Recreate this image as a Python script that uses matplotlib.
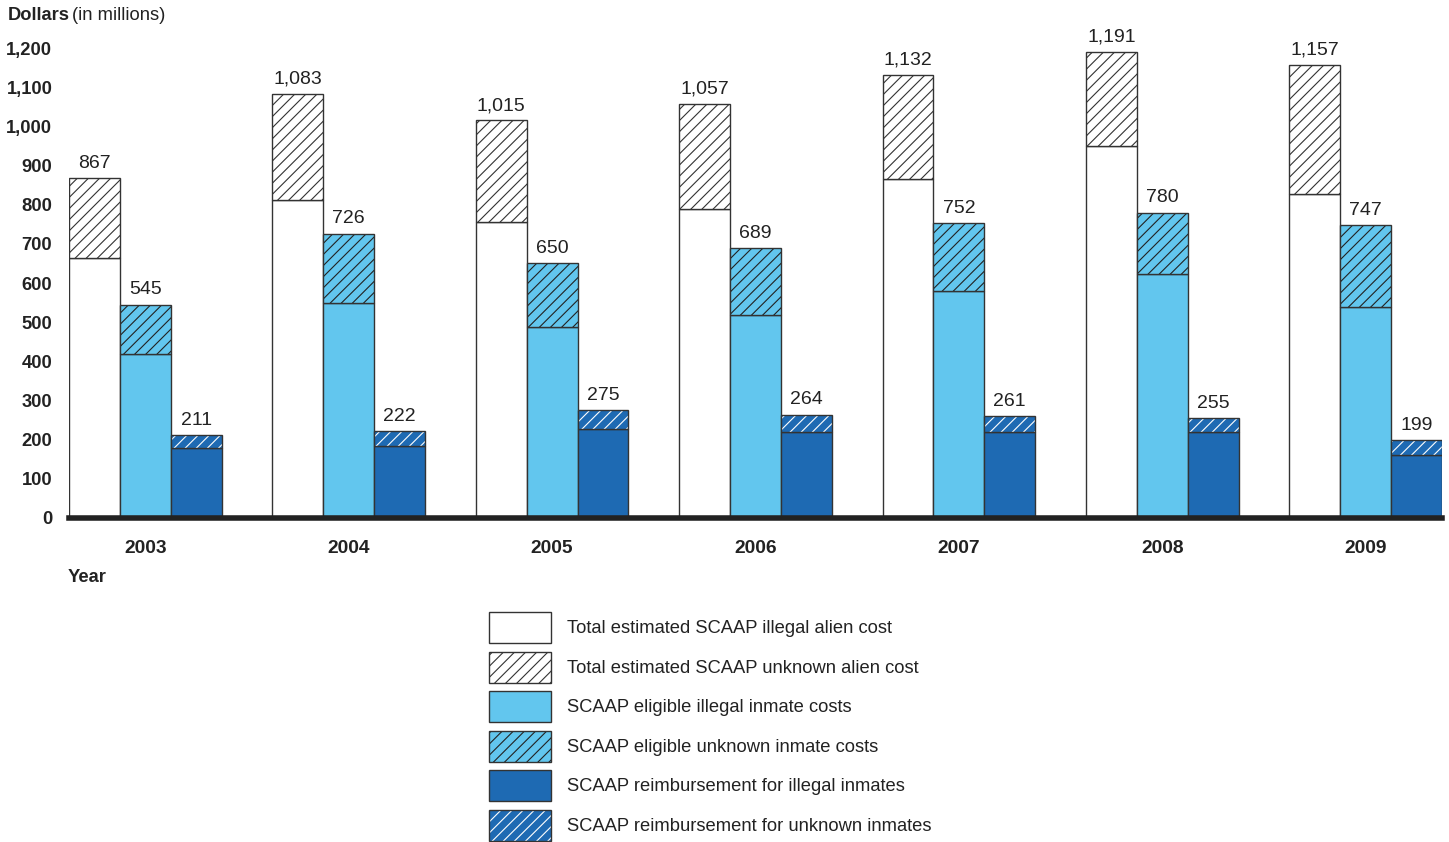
import matplotlib.pyplot as plt
import numpy as np
from matplotlib.patches import Rectangle
from matplotlib.legend_handler import HandlerBase

plt.rcParams['font.family'] = ['Liberation Sans', 'DejaVu Sans']
plt.rcParams['hatch.linewidth'] = 0.8

years = ['2003', '2004', '2005', '2006', '2007', '2008', '2009']

# total estimated SCAAP cost (illegal part + unknown part = total)
total_illegal = [663, 812, 757, 789, 865, 950, 827]
total_all = [867, 1083, 1015, 1057, 1132, 1191, 1157]
# SCAAP eligible costs
elig_illegal = [420, 548, 488, 518, 580, 623, 539]
elig_all = [545, 726, 650, 689, 752, 780, 747]
# SCAAP reimbursement
reimb_illegal = [178, 185, 228, 219, 220, 220, 160]
reimb_all = [211, 222, 275, 264, 261, 255, 199]

yticks = [0, 100, 200, 300, 400, 500, 600, 700, 800, 900, 1000, 1100, 1200]

LIGHT = '#62C6EE'
DARK = '#1E6AB3'
EDGE = '#333333'
TXT = '#222222'
HATCH = '///'

fig = plt.figure(figsize=(14.49, 8.42), dpi=100)
ax = fig.add_axes([69 / 1449, 1 - 518 / 842, (1442 - 69) / 1449, (518 - 48) / 842])

x = np.arange(len(years))
w = 0.25


def stacked(xpos, low, full, color, hatch_color, label_low):
    low = np.array(low)
    full = np.array(full)
    ax.bar(xpos, low, w, color=color, edgecolor=EDGE, linewidth=1.0,
           label=label_low, zorder=2)
    # hatch layer then outline layer so hatch colour can differ from edge
    ax.bar(xpos, full - low, w, bottom=low, color=color, edgecolor=hatch_color,
           hatch=HATCH, linewidth=0, zorder=2)
    ax.bar(xpos, full - low, w, bottom=low, fill=False, edgecolor=EDGE,
           linewidth=1.0, zorder=3)
    for xi, v in zip(xpos, full):
        ax.text(xi, v + 16, f'{v:,}', ha='center', va='bottom', fontsize=14,
                color=TXT)


stacked(x - w, total_illegal, total_all, 'white', '#333333',
        'Total estimated SCAAP illegal alien cost')
stacked(x, elig_illegal, elig_all, LIGHT, '#222222',
        'SCAAP eligible illegal inmate costs')
stacked(x + w, reimb_illegal, reimb_all, DARK, 'white',
        'SCAAP reimbursement for illegal inmates')

ax.set_xlim(-1.5 * w, len(years) - 1 + 1.5 * w)
ax.set_ylim(0, 1200)
ax.set_yticks(yticks)
ax.set_yticklabels([f'{t:,}' for t in yticks], fontweight='bold', fontsize=13.2,
                   color=TXT)
ax.set_xticks(x)
ax.set_xticklabels(years, fontweight='bold', fontsize=13.8, color=TXT)
ax.tick_params(axis='both', length=0)
ax.tick_params(axis='y', pad=12)
ax.tick_params(axis='x', pad=16)
for s in ['top', 'right', 'left']:
    ax.spines[s].set_visible(False)
ax.spines['bottom'].set_linewidth(4)
ax.spines['bottom'].set_color(TXT)
ax.spines['bottom'].set_zorder(5)

fig.text(8 / 1449, 1 - 16 / 842, 'Dollars', fontweight='bold', fontsize=13.2,
         va='center', color=TXT)
fig.text(72 / 1449, 1 - 16 / 842, '(in millions)', fontsize=13.2,
         va='center', color=TXT)
fig.text(68 / 1449, 1 - 577 / 842, 'Year', fontweight='bold', fontsize=13.2,
         va='center', color=TXT)


# legend with custom swatches (hatch colour differs from outline colour)
class DoubleHatch(HandlerBase):
    def __init__(self, face, hatch_color):
        super().__init__()
        self.face = face
        self.hatch_color = hatch_color

    def create_artists(self, legend, orig_handle, xdescent, ydescent, width,
                       height, fontsize, trans):
        r1 = Rectangle((-xdescent, -ydescent), width, height, facecolor=self.face,
                       edgecolor=self.hatch_color, hatch=HATCH, linewidth=0,
                       transform=trans)
        r2 = Rectangle((-xdescent, -ydescent), width, height, fill=False,
                       edgecolor=EDGE, linewidth=1.0, transform=trans)
        return [r1, r2]


h_white = Rectangle((0, 0), 1, 1, facecolor='white', edgecolor=EDGE, linewidth=1.0)
h_white_u = Rectangle((0, 0), 1, 1)
h_light = Rectangle((0, 0), 1, 1, facecolor=LIGHT, edgecolor=EDGE, linewidth=1.0)
h_light_u = Rectangle((0, 0), 1, 1)
h_dark = Rectangle((0, 0), 1, 1, facecolor=DARK, edgecolor=EDGE, linewidth=1.0)
h_dark_u = Rectangle((0, 0), 1, 1)

handles = [h_white, h_white_u, h_light, h_light_u, h_dark, h_dark_u]
labels = ['Total estimated SCAAP illegal alien cost',
          'Total estimated SCAAP unknown alien cost',
          'SCAAP eligible illegal inmate costs',
          'SCAAP eligible unknown inmate costs',
          'SCAAP reimbursement for illegal inmates',
          'SCAAP reimbursement for unknown inmates']
fig.legend(handles, labels, loc='upper left',
           bbox_to_anchor=(489 / 1449, 1 - 612 / 842),
           frameon=False, fontsize=13.2, handlelength=3.38,
           handleheight=2.22, labelspacing=0.47, handletextpad=0.87,
           borderpad=0, borderaxespad=0, labelcolor=TXT,
           handler_map={h_white_u: DoubleHatch('white', '#333333'),
                        h_light_u: DoubleHatch(LIGHT, '#222222'),
                        h_dark_u: DoubleHatch(DARK, 'white')})

fig.savefig('out.png', dpi=100)
